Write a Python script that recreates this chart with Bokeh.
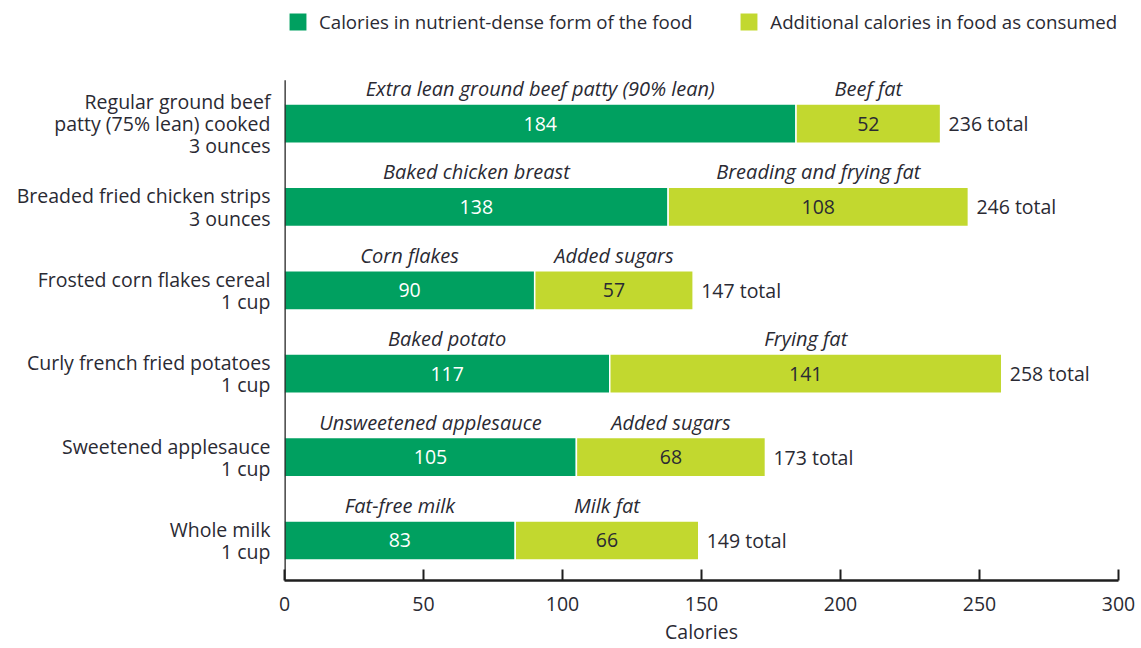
from bokeh.plotting import figure
from bokeh.models import ColumnDataSource, FixedTicker, Legend, LegendItem
from bokeh.core.properties import value
from bokeh.embed import file_html
from bokeh.resources import INLINE

# ---------------- data ----------------
foods = [
    "Regular ground beef\npatty (75% lean) cooked\n3 ounces",
    "Breaded fried chicken strips\n3 ounces",
    "Frosted corn flakes cereal\n1 cup",
    "Curly french fried potatoes\n1 cup",
    "Sweetened applesauce\n1 cup",
    "Whole milk\n1 cup",
]
base_names = ["Extra lean ground beef patty (90% lean)", "Baked chicken breast",
              "Corn flakes", "Baked potato", "Unsweetened applesauce", "Fat-free milk"]
extra_names = ["Beef fat", "Breading and frying fat", "Added sugars",
               "Frying fat", "Added sugars", "Milk fat"]
base_cal = [184, 138, 90, 117, 105, 83]
extra_cal = [52, 108, 57, 141, 68, 66]
x_ticks = [0, 50, 100, 150, 200, 250, 300]
legend_labels = ["Calories in nutrient-dense form of the food",
                 "Additional calories in food as consumed"]

# ---------------- styles ----------------
DARK = "#00A060"
LIGHT = "#C2D82F"
TXT = "#2a2a33"
FONT = "Open Sans"
FS = "19.5px"
FSI = "20px"
FSL = "18.7px"

n = len(foods)
ys = [n - 1 - i for i in range(n)]
totals = [b + e for b, e in zip(base_cal, extra_cal)]

src = ColumnDataSource(dict(
    y=ys,
    base=base_cal,
    extra=extra_cal,
    total=totals,
    base_mid=[b / 2 for b in base_cal],
    extra_mid=[b + e / 2 for b, e in zip(base_cal, extra_cal)],
    base_txt=[str(b) for b in base_cal],
    extra_txt=[str(e) for e in extra_cal],
    total_txt=[f"{t} total" for t in totals],
    base_name=base_names,
    extra_name=extra_names,
    ylab=[y + 0.42 for y in ys],
))

p = figure(width=1141, height=648, x_range=(0, 300), y_range=(-0.48, 6.38),
           output_backend="svg", toolbar_location=None,
           min_border_left=284, min_border_right=23, min_border_top=8,
           min_border_bottom=68)
p.outline_line_color = None
p.grid.visible = False
p.background_fill_color = "white"

r1 = p.hbar(y="y", left=0, right="base", height=0.47, source=src,
            fill_color=DARK, line_color="white", line_width=1.5)
r2 = p.hbar(y="y", left="base", right="total", height=0.47, source=src,
            fill_color=LIGHT, line_color="white", line_width=1.5)

# left axis line
p.segment(x0=[0], y0=[-0.48], x1=[0], y1=[5.52], line_color="#1e1e1e",
          line_width=2.5)

common = dict(source=src, text_baseline="middle", text_font=value(FONT))
# values inside bars
p.text(x="base_mid", y="y", text="base_txt", text_color="white",
       text_align="center", text_font_size=FS, **common)
p.text(x="extra_mid", y="y", text="extra_txt", text_color=TXT,
       text_align="center", text_font_size=FS, **common)
# totals
p.text(x="total", y="y", text="total_txt", text_color=TXT,
       text_align="left", x_offset=8, text_font_size=FS, **common)
# italic segment names
p.text(x="base_mid", y="ylab", text="base_name", text_color=TXT,
       text_align="center", text_font_style="italic", text_font_size=FSI,
       **common)
p.text(x="extra_mid", y="ylab", text="extra_name", text_color=TXT,
       text_align="center", text_font_style="italic", text_font_size=FSI,
       **common)

# x axis
xa = p.xaxis[0]
xa.ticker = FixedTicker(ticks=x_ticks)
xa.axis_label = "Calories"
xa.axis_line_width = 2.5
xa.axis_line_color = "#1e1e1e"
xa.major_tick_in = 11
xa.major_tick_out = 0
xa.major_tick_line_width = 2
xa.major_tick_line_color = "#1e1e1e"
xa.minor_tick_line_color = None
xa.major_label_standoff = 16
xa.major_label_text_font = FONT
xa.major_label_text_font_size = FS
xa.major_label_text_color = TXT
xa.axis_label_text_font = FONT
xa.axis_label_text_font_size = FS
xa.axis_label_text_font_style = "normal"
xa.axis_label_text_color = TXT
xa.axis_label_standoff = 4

# y axis (category labels)
ya = p.yaxis[0]
ya.ticker = FixedTicker(ticks=ys)
ya.major_label_overrides = {y: f for y, f in zip(ys, foods)}
ya.axis_line_color = None
ya.major_tick_line_color = None
ya.minor_tick_line_color = None
ya.major_label_standoff = 8
ya.major_label_text_font = FONT
ya.major_label_text_font_size = FS
ya.major_label_text_color = TXT
ya.major_label_text_line_height = 0.82

legend = Legend(items=[LegendItem(label=legend_labels[0], renderers=[r1]),
                       LegendItem(label=legend_labels[1], renderers=[r2])],
                orientation="horizontal", location=(2, 546),
                glyph_width=23, glyph_height=23, label_standoff=10,
                spacing=45, padding=0, margin=0, border_line_color=None,
                background_fill_alpha=0, label_text_font=FONT,
                label_text_font_size=FSL, label_text_color=TXT,
                label_height=23)
p.add_layout(legend, "center")

open("out.html", "w").write(file_html(p, INLINE))
